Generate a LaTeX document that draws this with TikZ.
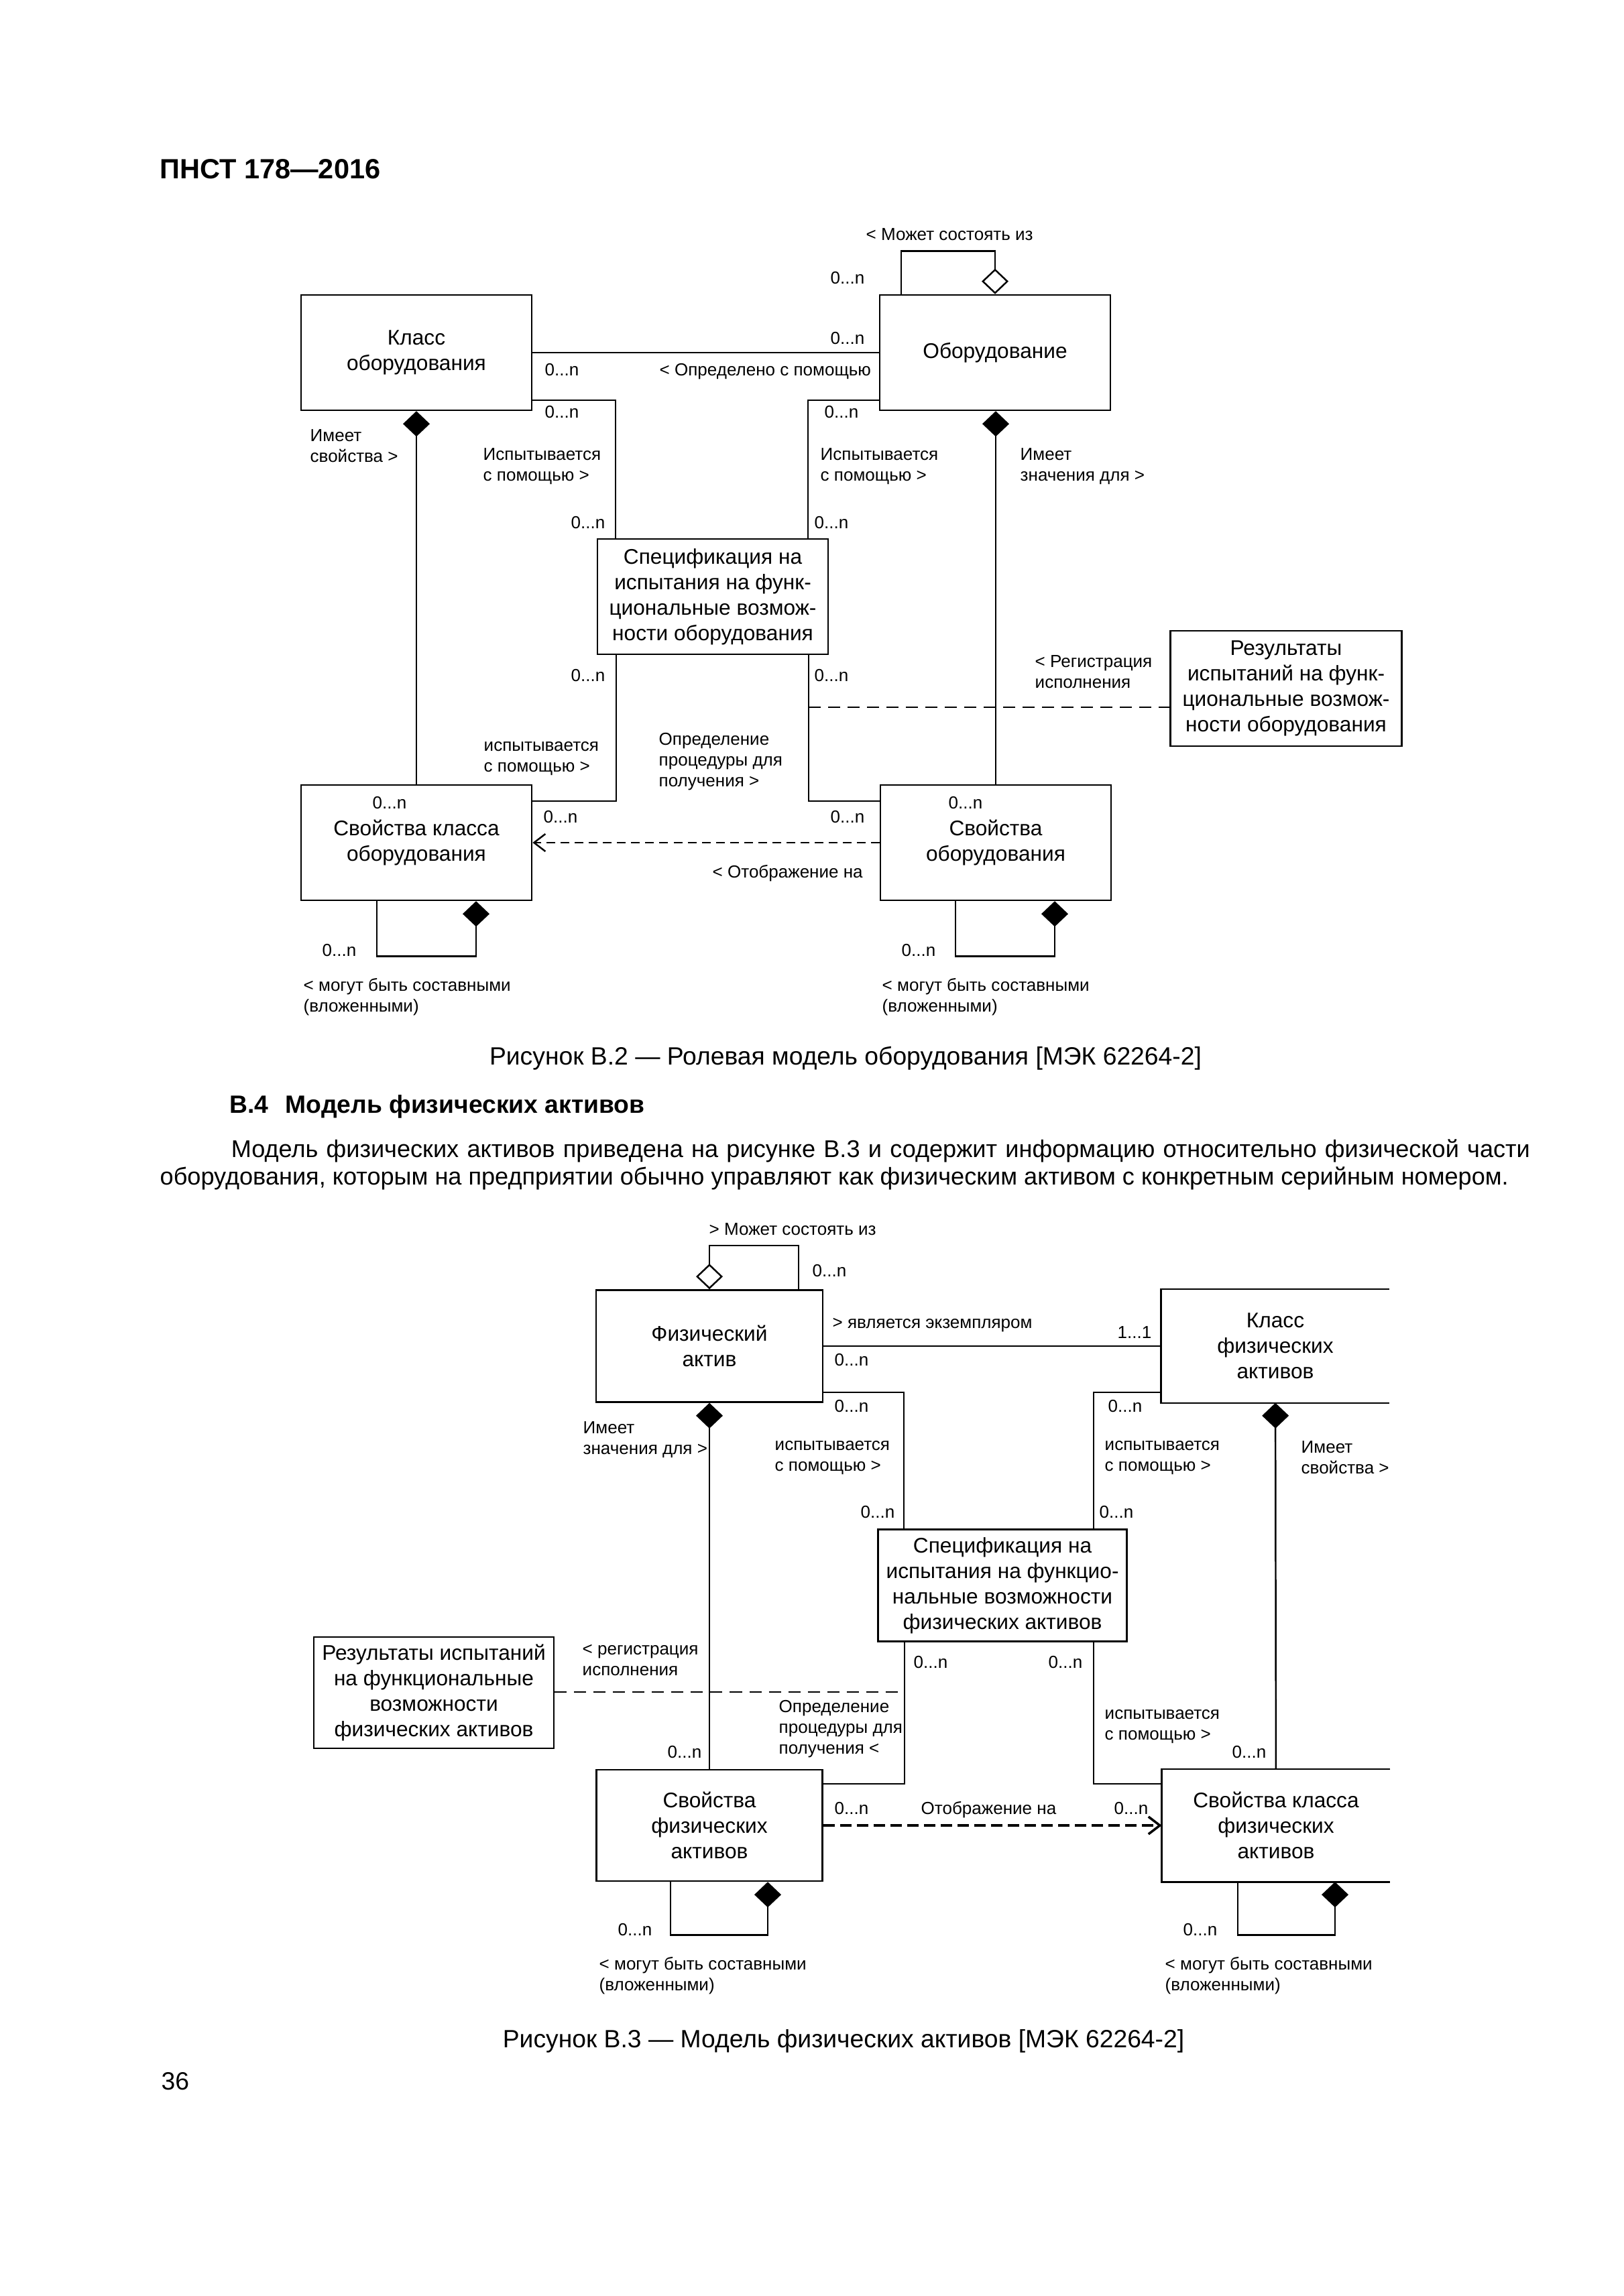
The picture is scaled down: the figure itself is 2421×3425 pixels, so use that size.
\documentclass[tikz,border=0pt]{standalone}
\usepackage{fontspec}
\setmainfont{Liberation Sans}
\usetikzlibrary{arrows.meta}

\tikzstyle{classbox} = [rectangle, minimum width=3.44cm, minimum height=1.72cm, inner sep=0pt, text centered, align=center, draw=black, line width=0.7pt, font=\fontsize{9}{10.8}\selectfont]
\tikzstyle{mult} = [anchor=base west, inner sep=0pt, font=\fontsize{7.4}{8.8}\selectfont]
\tikzstyle{role} = [anchor=north west, inner sep=0pt, align=left, font=\fontsize{7.4}{8.8}\selectfont, execute at begin node=\strut]
\tikzstyle{body} = [inner sep=0pt, font=\fontsize{10.6}{10.5}\selectfont]
\tikzstyle{assoc} = [line width=0.7pt]
\tikzstyle{compos} = [assoc, -{Diamond[length=0.38cm,width=0.4cm]}]
\tikzstyle{aggreg} = [assoc, -{Diamond[open,length=0.38cm,width=0.4cm]}]
\tikzstyle{depend} = [line width=0.7pt, dash pattern=on 0.13cm off 0.08cm, -{Straight Barb[length=0.17cm,width=0.26cm]}]
\tikzstyle{note} = [line width=0.7pt, dash pattern=on 0.18cm off 0.11cm]

\begin{document}
\begin{tikzpicture}[x=0.01cm, y=-0.01cm]
	\path [use as bounding box, fill=white] (0,0) rectangle (2421,3425);
	% Page text
	\node [body, anchor=base west, font=\fontsize{11.8}{13}\selectfont\bfseries] (pagehead) at (238,267) {ПНСТ 178—2016};
	\node [body, anchor=base] (caption2) at (1261,1588) {Рисунок В.2 — Ролевая модель оборудования [МЭК 62264-2]};
	\node [body, anchor=base west, font=\fontsize{10.6}{10.5}\selectfont\bfseries] (sectionhead) at (342,1660) {В.4\hspace{0.25cm}Модель физических активов};
	\node [body, font=\fontsize{10.27}{10.5}\selectfont, text width=20.42cm, align=justify, anchor=north west, execute at begin node=\strut] (para) at (238,1699) {\hspace*{1.06cm}Модель физических активов приведена на рисунке В.3 и содержит информацию относительно физической части\linebreak оборудования, которым на предприятии обычно управляют как физическим активом с конкретным серийным номером.};
	\node [body, anchor=base] (caption3) at (1258,3054) {Рисунок В.3 — Модель физических активов [МЭК 62264-2]};
	\node [body, anchor=base west] (pagenum) at (240,3117) {36};

	% Place nodes (figure B.2)
	\node [classbox] (klass) at (621,526) {Класс\\оборудования};
	\node [classbox] (equip) at (1484,526) {Оборудование};
	\node [classbox] (spec) at (1063,890) {Спецификация на\\испытания на функ-\\циональные возмож-\\ности оборудования};
	\node [classbox, minimum width=3.45cm] (results) at (1918,1027) {Результаты\\испытаний на функ-\\циональные возмож-\\ности оборудования};
	\node [classbox] (klassprop) at (621,1257) {Свойства класса\\оборудования};
	\node [classbox] (equipprop) at (1485,1257) {Свойства\\оборудования};

	% Draw edges (figure B.2)
	\draw [aggreg] (equip.north -| 1344,0) -- ++(0,-64) -| (equip.north);
	\draw [assoc] (klass) -- (equip);
	\draw [assoc] (klass.east |- 0,597) -| (spec.north -| 918,0);
	\draw [assoc] (equip.west |- 0,597) -| (spec.north -| 1205,0);
	\draw [compos] (klassprop) -- (klass);
	\draw [compos] (equipprop.north) -- (equipprop.north |- equip.south);
	\draw [assoc] (spec.south -| 919,0) |- (klassprop.east |- 0,1195);
	\draw [assoc] (spec.south -| 1206,0) |- (equipprop.west |- 0,1195);
	\coordinate (logrun) at (1206,1055);
	\draw [note] (logrun) -- (results.west |- logrun);
	\draw [depend] (equipprop) -- (klassprop);
	\draw [compos] (klassprop.south -| 562,0) -- ++(0,82) -| (klassprop.south -| 710,0);
	\draw [compos] (equipprop.south -| 1425,0) -- ++(0,82) -| (equipprop.south -| 1573,0);

	% Labels (figure B.2)
	\node [mult] (a1) at (1291,359) {< Может состоять из};
	\node [mult] (a2) at (1238,424) {0...n};
	\node [mult] (a3) at (1238,514) {0...n};
	\node [mult] (a4) at (812,561) {0...n};
	\node [mult] (a5) at (983,561) {< Определено с помощью};
	\node [mult] (a6) at (812,624) {0...n};
	\node [mult] (a7) at (1229,624) {0...n};
	\node [role] (a8) at (462,640) {Имеет\\свойства >};
	\node [role] (a9) at (720,668) {Испытывается\\с помощью >};
	\node [role] (a10) at (1223,668) {Испытывается\\с помощью >};
	\node [role] (a11) at (1521,668) {Имеет\\значения для >};
	\node [mult] (a12) at (851,789) {0...n};
	\node [mult] (a13) at (1214,789) {0...n};
	\node [mult] (a14) at (851,1016) {0...n};
	\node [mult] (a15) at (1214,1016) {0...n};
	\node [role] (a16) at (1543,977) {< Регистрация\\исполнения};
	\node [role] (a17) at (721,1106) {испытывается\\с помощью >};
	\node [role] (a18) at (982,1093) {Определение\\процедуры для\\получения >};
	\node [mult] (a19) at (555,1206) {0...n};
	\node [mult] (a20) at (1414,1206) {0...n};
	\node [mult] (a21) at (810,1227) {0...n};
	\node [mult] (a22) at (1238,1227) {0...n};
	\node [mult] (a23) at (1062,1309) {< Отображение на};
	\node [mult] (a24) at (480,1426) {0...n};
	\node [mult] (a25) at (1344,1426) {0...n};
	\node [role] (a26) at (452,1459) {< могут быть составными\\(вложенными)};
	\node [role] (a27) at (1315,1459) {< могут быть составными\\(вложенными)};

	% Place nodes (figure B.3)
	\node [classbox, minimum width=3.38cm, minimum height=1.67cm] (asset) at (1058,2008) {Физический\\актив};
	\node [classbox, minimum width=3.38cm, minimum height=1.67cm, draw=none] (assetclass) at (1902,2008) {Класс\\физических\\активов};
	\node [classbox, minimum width=3.71cm, minimum height=1.67cm] (assetspec) at (1495,2365) {Спецификация на\\испытания на функцио-\\нальные возможности\\физических активов};
	\node [classbox, minimum width=3.58cm, minimum height=1.66cm] (assetres) at (647,2525) {Результаты испытаний\\на функциональные\\возможности\\физических активов};
	\node [classbox, minimum width=3.37cm, minimum height=1.66cm] (assetprop) at (1058,2723) {Свойства\\физических\\активов};
	\node [classbox, minimum width=3.38cm, minimum height=1.66cm, draw=none] (assetclassprop) at (1903,2723) {Свойства класса\\физических\\активов};

	% Draw edges (figure B.3)
	\draw [assoc] (assetclass.north east) -- (assetclass.north west) -- (assetclass.south west) -- (assetclass.south east);
	\draw [assoc] (assetclassprop.north east) -- (assetclassprop.north west) -- (assetclassprop.south west) -- (assetclassprop.south east);
	\draw [aggreg] (asset.north -| 1191,0) -- ++(0,-65) -| (asset.north);
	\draw [assoc] (asset) -- (assetclass);
	\draw [assoc] (asset.east |- 0,2077) -| (assetspec.north -| 1348,0);
	\draw [assoc] (assetclass.west |- 0,2077) -| (assetspec.north -| 1631,0);
	\draw [compos] (assetprop) -- (asset);
	\draw [compos] (assetclassprop) -- (assetclass);
	\draw [assoc] (assetspec.south -| 1349,0) |- (assetprop.east |- 0,2661);
	\draw [assoc] (assetspec.south -| 1631,0) |- (assetclassprop.west |- 0,2661);
	\coordinate (logrun2) at (1349,2524);
	\draw [note] (assetres.east |- logrun2) -- (logrun2);
	\draw [depend, line width=1pt, dash pattern=on 0.17cm off 0.08cm] (assetprop) -- (assetclassprop);
	\draw [compos] (assetprop.south -| 1000,0) -- ++(0,79) -| (assetprop.south -| 1145,0);
	\draw [compos] (assetclassprop.south -| 1846,0) -- ++(0,79) -| (assetclassprop.south -| 1991,0);

	% Labels (figure B.3)
	\node [mult] (b1) at (1057,1842) {> Может состоять из};
	\node [mult] (b2) at (1211,1904) {0...n};
	\node [mult] (b3) at (1241,1981) {> является экземпляром};
	\node [mult] (b4) at (1666,1996) {1...1};
	\node [mult] (b5) at (1244,2037) {0...n};
	\node [mult] (b6) at (1244,2106) {0...n};
	\node [mult] (b7) at (1652,2106) {0...n};
	\node [role] (b8) at (869,2120) {Имеет\\значения для >};
	\node [role] (b9) at (1155,2149) {испытывается\\с помощью >};
	\node [role] (b10) at (1647,2149) {испытывается\\с помощью >};
	\node [role] (b11) at (1940,2149) {Имеет\\свойства >};
	\node [mult] (b12) at (1283,2264) {0...n};
	\node [mult] (b13) at (1639,2264) {0...n};
	\node [mult] (b14) at (1362,2488) {0...n};
	\node [mult] (b15) at (1563,2488) {0...n};
	\node [role] (b16) at (868,2453) {< регистрация\\исполнения};
	\node [role] (b17) at (1161,2536) {Определение\\процедуры для\\получения <};
	\node [role] (b18) at (1647,2550) {испытывается\\с помощью >};
	\node [mult] (b19) at (995,2622) {0...n};
	\node [mult] (b20) at (1837,2622) {0...n};
	\node [mult] (b21) at (1244,2706) {0...n};
	\node [mult] (b22) at (1373,2706) {Отображение на};
	\node [mult] (b23) at (1661,2706) {0...n};
	\node [mult] (b24) at (921,2887) {0...n};
	\node [mult] (b25) at (1764,2887) {0...n};
	\node [role] (b26) at (893,2919) {< могут быть составными\\(вложенными)};
	\node [role] (b27) at (1737,2919) {< могут быть составными\\(вложенными)};
\end{tikzpicture}
\end{document}
